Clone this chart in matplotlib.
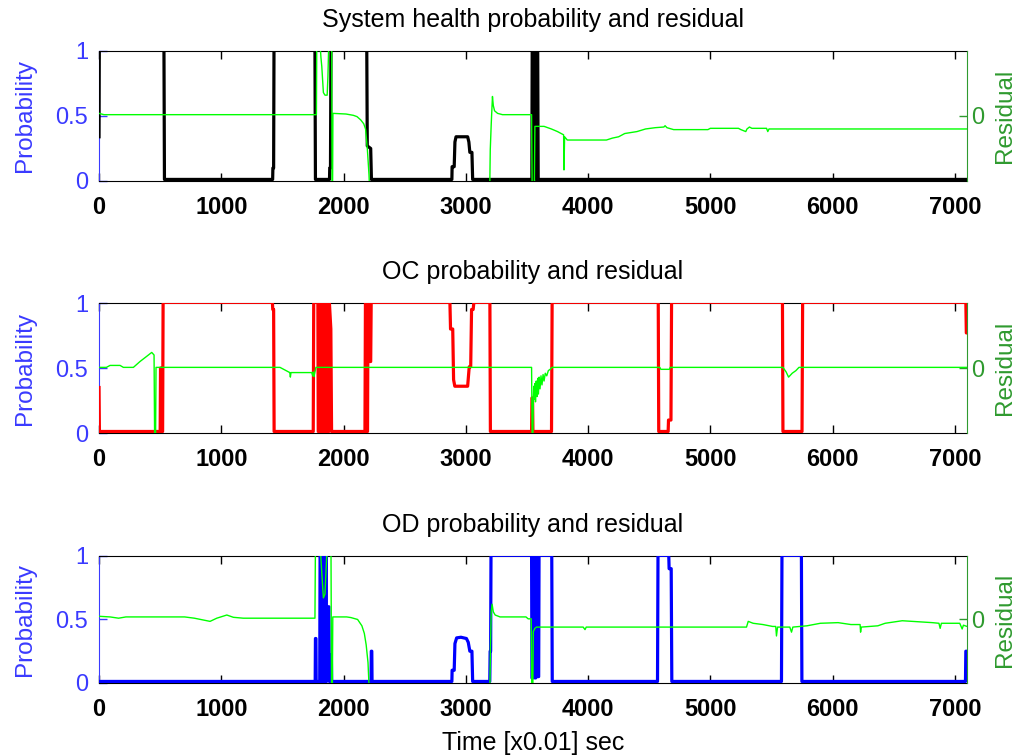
import matplotlib
matplotlib.use("Agg")
import matplotlib.pyplot as plt

plt.rcParams["font.family"] = ["Liberation Sans", "DejaVu Sans"]

# ── time axis ──────────────────────────────────────────────────────────────
T_MAX = 7100
x_ticks = [0, 1000, 2000, 3000, 4000, 5000, 6000, 7000]

# saturated probability (sits on the top edge of the box)
HI = 1.005
LO = 0.012

# ── panel 1: system health probability (black) ────────────────────────────
sys_t = [0, 2, 531, 535, 1420, 1422, 1428, 1431, 1766, 1770, 1885, 1887, 1893,
         1897, 2190, 2194, 2222, 2228, 2886, 2888, 2905, 2911, 2920, 3015, 3025,
         3033, 3050, 3056, 3540, 3543, 3552, 3555, 3560, 3563, 3575, 3578, 3582,
         3588, 3592, 7100]
sys_p = [0.34, HI, HI, LO, LO, 0.1, 0.1, HI, HI, LO, LO, 0.1, 0.1,
         HI, HI, 0.27, 0.25, LO, LO, 0.11, 0.11, 0.3, 0.34, 0.34, 0.3,
         0.22, 0.22, LO, LO, HI, HI, LO, LO, HI, HI, LO, HI,
         HI, LO, LO]

sys_rt = [0, 40, 1778, 1781, 1805, 1815, 1822, 1835, 1848, 1866, 1872, 1880, 1903,
          1906, 1910, 1913, 2020, 2080, 2110, 2140, 2165, 2180, 2195, 2208, 2215,
          3195, 3200, 3208, 3218, 3225, 3235, 3260, 3300, 3538, 3543, 3560, 3565,
          3640, 3700, 3750, 3790, 3800, 3803, 3808, 3830, 4150, 4200, 4250, 4300,
          4400, 4470, 4550, 4620, 4630, 4645, 4700, 4980, 5000, 5230, 5250, 5290,
          5300, 5320, 5340, 5460, 5470, 5480, 7100]
sys_r = [0.02, 0.01, 0.01, 0.6, 0.6, 0.45, 0.38, 0.18, 0.16, 0.16, 0.3, 0.6, 0.6,
         -0.6, -0.6, 0.02, 0.015, 0.005, -0.005, -0.03, -0.06, -0.1, -0.26, -0.45,
         -0.6, -0.6, -0.26, -0.06, 0.15, 0.08, 0.04, 0.02, 0.01, 0.01, -0.6, -0.6,
         -0.08, -0.08, -0.1, -0.12, -0.14, -0.145, -0.415, -0.16, -0.185, -0.185,
         -0.17, -0.16, -0.135, -0.12, -0.1, -0.09, -0.085, -0.075, -0.09, -0.105,
         -0.105, -0.095, -0.095, -0.105, -0.12, -0.1, -0.085, -0.095, -0.095,
         -0.12, -0.1, -0.1]

# ── panel 2: OC probability (red) ──────────────────────────────────────────
oc_t = [0, 3, 500, 503, 512, 515, 520, 524, 1418, 1421, 1428, 1432, 1752, 1756,
        1790, 1793, 1799, 1802, 1808, 1811, 1817, 1820, 1826, 1829, 1836, 1839,
        1846, 1849, 1856, 1859, 1866, 1869,
        1880, 1884, 1896, 1902, 2175, 2179, 2186, 2190, 2196, 2200, 2208, 2212,
        2222, 2226, 2870, 2875, 2893, 2900, 2910, 3015, 3028, 3040, 3047, 3060,
        3066, 3197, 3201, 3538, 3541, 3546, 3549, 3701, 3706, 4574, 4578, 4655,
        4658, 4678, 4683, 5590, 5594, 5750, 5755, 7090, 7094, 7100]
oc_p = [0.35, LO, LO, 0.5, 0.5, LO, LO, HI, HI, 0.95, 0.95, LO,
        LO, HI, HI, LO, LO, HI, HI, LO, LO, HI, HI, LO, LO, HI,
        HI, LO, LO, HI, HI, LO,
        LO, HI, 0.8, LO, LO, HI, HI, LO, LO, HI, HI,
        0.55, 0.55, HI, HI, 0.8, 0.8, 0.41, 0.36, 0.36, 0.51, 0.51, 0.95, 0.95,
        HI, HI, LO, LO, 0.27, 0.27, LO, LO, HI, HI, LO, LO,
        0.1, 0.1, HI, HI, LO, LO, HI, HI, 0.77, 0.77]

oc_rt = [0, 60, 90, 172, 199, 281, 335, 390, 431, 450, 455, 462, 466, 1480, 1510,
         1560, 1565, 1570, 1740, 1748, 1752, 1758, 1764, 1774, 3538, 3543, 3548,
         3552, 3556, 3560, 3565, 3570, 3576, 3582, 3588, 3594, 3600, 3607, 3615,
         3623, 3632, 3640, 3650, 3662, 3675, 3690, 3705, 4587, 4595, 4665, 4672,
         5594, 5620, 5640, 5670, 5700, 5725, 7100]
oc_r = [0.005, 0.005, 0.02, 0.02, 0.005, 0.005, 0.05, 0.09, 0.12, 0.1, -0.6, -0.6,
        0.005, 0.005, -0.01, -0.035, -0.07, -0.035, -0.035, -0.06, -0.03, -0.065,
        -0.04, 0.005, 0.005, -0.6, -0.6, -0.25, -0.14, -0.24, -0.12, -0.26, -0.1,
        -0.22, -0.08, -0.2, -0.07, -0.16, -0.06, -0.13, -0.05, -0.1, -0.04, -0.06,
        -0.02, -0.01, 0.005, 0.005, -0.01, -0.01, 0.005, 0.005, -0.03, -0.07,
        -0.04, -0.02, 0.005, 0.005]

# ── panel 3: OD probability (blue) ─────────────────────────────────────────
od_t = [0, 1768, 1770, 1774, 1776, 1805, 1808, 1812, 1815, 1819, 1822, 1826,
        1829, 1834, 1837, 1842, 1845, 1850, 1853, 1858, 1861, 1866, 1880, 1884,
        1893, 1895, 1900, 1903, 2225, 2227,
        2231, 2233, 2886, 2888, 2905, 2911, 2925, 2960, 3005, 3020, 3033, 3050,
        3056, 3196, 3199, 3203, 3206, 3538, 3541, 3548, 3551, 3560, 3563, 3572,
        3575, 3585, 3588, 3596, 3599, 3703, 3707, 4568, 4572, 4660, 4663, 4680,
        4685, 5582, 5586, 5745, 5749, 7087, 7090, 7100]
od_p = [LO, LO, 0.35, 0.35, LO, LO, HI, HI, LO, LO, HI, HI,
        LO, LO, HI, HI, LO, LO, HI, HI, LO, 0.6, 0.6, LO,
        LO, 0.22, 0.22, LO, LO,
        0.25, 0.25, LO, LO, 0.1, 0.1, 0.31, 0.355, 0.36, 0.35, 0.32, 0.25,
        0.25, LO, LO, 0.25, 0.25, HI, HI, 0.04, 0.04, HI, HI, 0.04, 0.04,
        HI, HI, 0.05, 0.05, HI, HI, LO, LO, HI, HI, 0.9, 0.9, LO,
        LO, HI, HI, LO, LO, 0.25, 0.25]

od_rt = [0, 90, 160, 220, 700, 780, 908, 963, 1045, 1099, 1180, 1766, 1770, 1808,
         1821, 1835, 1848, 1862, 1868, 1897, 1902, 1908, 1912, 2025, 2060, 2115,
         2150, 2170, 2185, 2200, 2212, 3196, 3202, 3208, 3215, 3225, 3240, 3280,
         3492, 3510, 3535, 3540, 3548, 3552, 3565, 3578, 3960, 3975, 3985, 5296,
         5310, 5350, 5430, 5510, 5535, 5541, 5550, 5650, 5664, 5675, 5790, 5900,
         6045, 6150, 6225, 6229, 6235, 6370, 6430, 6570, 6816, 6870, 6880, 6890,
         7040, 7060, 7070, 7100]
od_r = [0.025, 0.02, 0.01, 0.02, 0.02, 0.01, -0.015, 0.01, 0.035, 0.017, 0.01, 0.01,
        0.6, 0.6, 0.38, 0.17, 0.2, 0.5, 0.6, 0.6, -0.6, -0.6, 0.02, 0.02, 0.015,
        0.0, -0.05, -0.11, -0.2, -0.34, -0.6, -0.6, -0.2, 0.06, 0.12, 0.06, 0.035,
        0.02, 0.02, 0.005, 0.005, -0.6, -0.6, -0.095, -0.07, -0.06, -0.06, -0.08,
        -0.06, -0.06, -0.015, -0.03, -0.04, -0.055, -0.055, -0.13, -0.06, -0.06,
        -0.1, -0.06, -0.05, -0.03, -0.025, -0.04, -0.04, -0.1, -0.06, -0.05, -0.03,
        -0.01, -0.025, -0.03, -0.07, -0.03, -0.03, -0.075, -0.045, -0.055]

panels = [
    ("System health probability and residual", sys_t, sys_p, "black", sys_rt, sys_r),
    ("OC probability and residual", oc_t, oc_p, "red", oc_rt, oc_r),
    ("OD probability and residual", od_t, od_p, "blue", od_rt, od_r),
]

BLUE = "#3a3aff"
DKGREEN = "#2f9a2f"
FS_TICK = 17
FS_LAB = 18
FS_TITLE = 18

fig = plt.figure(figsize=(10.2, 7.56), dpi=100)
boxes = [(0.0971, 0.7606, 0.851, 0.172),
         (0.0971, 0.4272, 0.851, 0.172),
         (0.0971, 0.0966, 0.851, 0.168)]

for (title, t, p, col, rt, r), box in zip(panels, boxes):
    ax = fig.add_axes(box)
    ax.plot(t, p, color=col, lw=2.3, zorder=3)
    ax.set_xlim(0, T_MAX)
    ax.set_ylim(0, 1)
    ax.set_xticks(x_ticks)
    ax.set_yticks([0, 0.5, 1])
    ax.set_yticklabels(["0", "0.5", "1"])
    ax.tick_params(axis="x", direction="in", length=6, width=1, top=True,
                   labelsize=FS_TICK, pad=11)
    for lab in ax.get_xticklabels():
        lab.set_fontweight("bold")
    ax.tick_params(axis="y", direction="in", length=6, width=1, colors=BLUE,
                   labelsize=FS_TICK, pad=8)
    ax.spines["left"].set_color(BLUE)
    ax.spines["right"].set_visible(False)
    ax.set_ylabel("Probability", color=BLUE, fontsize=FS_LAB - 0.5, labelpad=14)
    ax.set_title(title, fontsize=FS_TITLE, pad=17)

    ax2 = ax.twinx()
    ax2.plot(rt, r, color="#00ff00", lw=1.0, zorder=4)
    ax2.set_ylim(-0.5, 0.5)
    ax2.set_yticks([0])
    ax2.tick_params(axis="y", direction="in", length=6, width=1, colors=DKGREEN,
                    labelsize=FS_TICK, pad=3)
    for side in ("left", "top", "bottom"):
        ax2.spines[side].set_visible(False)
    ax2.spines["right"].set_color(DKGREEN)
    ax2.set_ylabel("Residual", color=DKGREEN, fontsize=FS_LAB - 0.5, labelpad=7)

ax.set_xlabel("Time [x0.01] sec", fontsize=FS_LAB, labelpad=7)

fig.savefig("out.png", dpi=100)
